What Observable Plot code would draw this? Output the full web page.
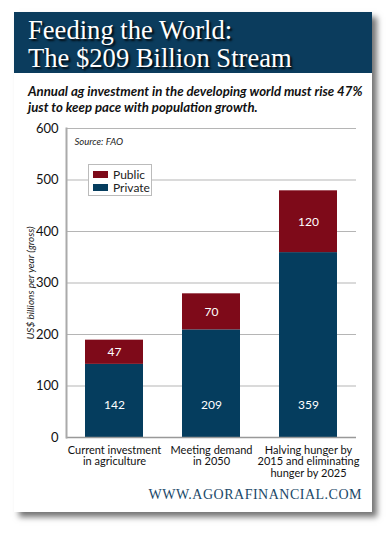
<!DOCTYPE html>
<html>
<head>
<meta charset="utf-8">
<script src="https://cdn.jsdelivr.net/npm/d3@7"></script>
<script src="https://cdn.jsdelivr.net/npm/@observablehq/plot@0.6"></script>
<style>
  html, body { margin: 0; padding: 0; background: #fff; }
  body { width: 392px; height: 534px; position: relative; overflow: hidden; font-family: Lato, "Liberation Sans", sans-serif; }
  #card { position: absolute; left: 14px; top: 12px; width: 358px; height: 500px; background: #fff; box-shadow: 5px 5px 6px rgba(0,0,0,0.55); }
  #header { position: absolute; left: 0; top: 0; width: 358px; height: 61px; background: #0b3c5d; }
  #title { position: absolute; left: 14px; top: 4px; margin: 0; color: #fff; font-family: "Liberation Serif", serif; font-weight: normal; font-size: 26.6px; line-height: 28px; white-space: nowrap; text-shadow: 2px 2px 2px rgba(0,0,0,0.85); }
  #subtitle { position: absolute; left: 14px; top: 71px; margin: 0; font-family: Lato, "Liberation Sans", sans-serif; font-weight: bold; font-style: italic; font-size: 13.2px; line-height: 16px; color: #111; white-space: nowrap; }
  #chart { position: absolute; left: 0; top: 103px; }
  #legend { position: absolute; left: 74px; top: 152px; width: 62px; height: 30px; border: 1px solid #bbb; background: #fff; font-size: 12px; color: #222; }
  .li { position: absolute; left: 4px; height: 13px; line-height: 13px; }
  .sw { display: inline-block; width: 15px; height: 7px; margin-right: 5px; vertical-align: 1px; }
  #footer { position: absolute; right: 10px; top: 475px; font-family: "Liberation Serif", serif; font-size: 14px; letter-spacing: 0.5px; color: #1b4868; }
</style>
</head>
<body>
<div id="card">
  <div id="header"><h1 id="title">Feeding the World:<br>The $209 Billion Stream</h1></div>
  <p id="subtitle">Annual ag investment in the developing world must rise 47%<br>just to keep pace with population growth.</p>
  <div id="chart"></div>
  <div id="legend">
    <div class="li" style="top:3px"><span class="sw" style="background:#7e0a19"></span>Public</div>
    <div class="li" style="top:16px"><span class="sw" style="background:#053d5e"></span>Private</div>
  </div>
  <div id="footer">WWW.AGORAFINANCIAL.COM</div>
</div>
<script>
const categories = ["Current investment\nin agriculture", "Meeting demand\nin 2050", "Halving hunger by\n2015 and eliminating\nhunger by 2025"];
const series = ["Private", "Public"];
const privateValues = [142, 209, 359];
const publicValues = [47, 70, 120];
const yTicks = [0, 100, 200, 300, 400, 500, 600];
const colors = ["#053d5e", "#7e0a19"];
const yLabel = "US$ billions per year (gross)";

const rows = [];
categories.forEach((c, i) => {
  rows.push({category: c, series: "Private", value: privateValues[i], base: 0});
  rows.push({category: c, series: "Public", value: publicValues[i], base: privateValues[i]});
});
const privRows = rows.filter(d => d.series === "Private");
const pubRows = rows.filter(d => d.series === "Public");

const chart = Plot.plot({
  width: 358,
  height: 390,
  marginLeft: 52,
  marginRight: 16,
  marginTop: 13,
  marginBottom: 68,
  style: {fontFamily: "Lato, 'Liberation Sans', sans-serif", fontSize: "12px", color: "#111", background: "transparent"},
  x: {domain: categories, paddingInner: 0.4, paddingOuter: 0.18, label: null},
  y: {domain: [0, 600], ticks: yTicks, label: null},
  color: {domain: series, range: colors},
  marks: [
    Plot.gridY(yTicks, {stroke: "#b5b5b5", strokeOpacity: 1}),
    Plot.barY(rows, Plot.stackY({x: "category", y: "value", fill: "series", order: series})),
    Plot.ruleY([0], {stroke: "#999", strokeWidth: 1.5}),
    Plot.frame({anchor: "left", stroke: "#aaa", strokeWidth: 2}),
    Plot.axisY(yTicks, {tickSize: 0, tickPadding: 8, fontSize: 13, label: null}),
    Plot.axisY({ticks: [], tickSize: 0, label: yLabel, labelAnchor: "center", labelArrow: "none", labelOffset: 40, fontSize: 10, fontStyle: "italic", fill: "#222"}),
    Plot.axisX({tickSize: 0, tickPadding: 8, fontSize: 11, lineHeight: 1.05, label: null, style: "letter-spacing:-0.2px"}),
    Plot.text(pubRows, {x: "category", y: d => d.base + d.value / 2, text: d => String(d.value), fill: "white", fontSize: 12}),
    Plot.text(privRows, {x: "category", y: 0, dy: -32, text: d => String(d.value), fill: "white", fontSize: 12}),
    Plot.text(["Source: FAO"], {frameAnchor: "top-left", dx: 8, dy: 10, text: d => d, fontStyle: "italic", fontSize: 9.5, textAnchor: "start", fill: "#222"})
  ]
});
document.getElementById("chart").appendChild(chart);
</script>
</body>
</html>
